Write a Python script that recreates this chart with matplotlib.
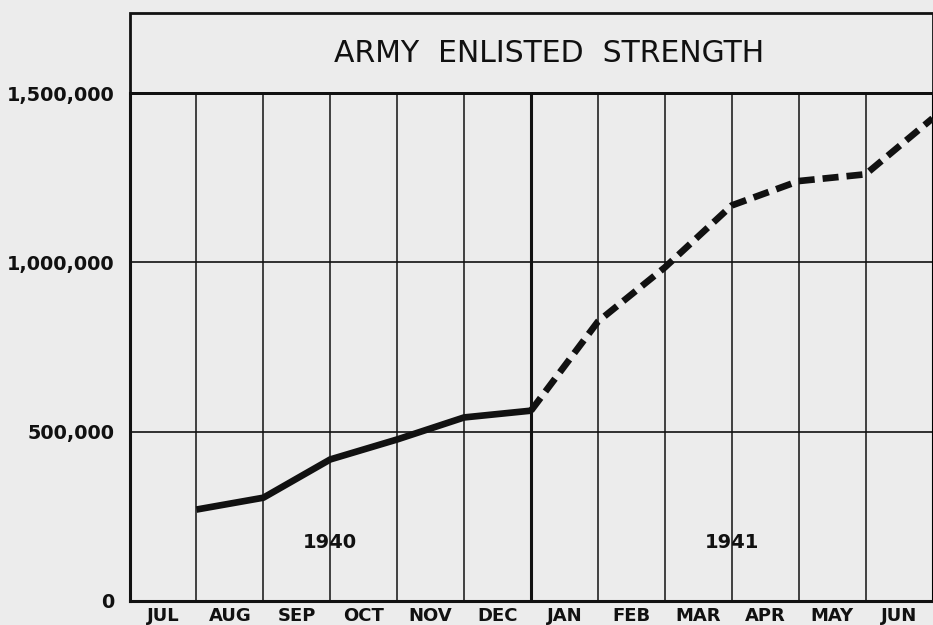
import matplotlib
matplotlib.use("Agg")
import matplotlib.pyplot as plt
from matplotlib.patches import Rectangle

# Month columns, July 1940 through June 1941
months = ["JUL", "AUG", "SEP", "OCT", "NOV", "DEC",
          "JAN", "FEB", "MAR", "APR", "MAY", "JUN"]

# End-of-month enlisted strength
strength_1940_months = [1, 2, 3, 4, 5, 6]            # end of JUL .. end of DEC
strength_1940 = [270000, 305000, 418000, 477000, 542000, 562000]
strength_1941_months = [6, 7, 8, 9, 10, 11, 12]      # end of DEC .. end of JUN
strength_1941 = [562000, 825000, 985000, 1168000, 1240000, 1260000, 1425000]

y_ticks = [0, 500000, 1000000, 1500000]
y_tick_labels = ["0", "500,000", "1,000,000", "1,500,000"]
year_labels = ["1940", "1941"]
title = "ARMY  ENLISTED  STRENGTH"

BG = "#ececec"
INK = "#111111"

fig = plt.figure(figsize=(9.33, 6.25), dpi=100, facecolor=BG)
W, H = 933, 625
left, right, bottom, top = 129.5 / W, 932.5 / W, (H - 601) / H, (H - 93) / H
ax = fig.add_axes([left, bottom, right - left, top - bottom], facecolor=BG)

ax.set_xlim(0, 12)
ax.set_ylim(0, 1500000)

# grid: horizontal value lines and month boundaries
for v in y_ticks[1:]:
    ax.axhline(v, color=INK, lw=1.2, zorder=1)
for m in range(1, 12):
    ax.axvline(m, color=INK, lw=2.2 if m == 6 else 1.1, zorder=1)

ax.plot(strength_1940_months, strength_1940, color=INK, lw=4.8,
        solid_capstyle="butt", solid_joinstyle="round", zorder=3)
ax.plot(strength_1941_months, strength_1941, color=INK, lw=4.8,
        ls=(0, (2.4, 1.2)), dash_capstyle="butt", zorder=3)

for s in ["left", "bottom"]:
    ax.spines[s].set_linewidth(2.2)
    ax.spines[s].set_color(INK)
ax.spines["right"].set_linewidth(1.5)
ax.spines["top"].set_linewidth(2.0)

ax.set_yticks(y_ticks)
ax.set_yticklabels(y_tick_labels)
ax.set_xticks([i + 0.5 for i in range(12)])
ax.set_xticklabels(months)
ax.tick_params(axis="both", length=0, colors=INK)
ax.tick_params(axis="y", pad=11, labelsize=13.8)
ax.tick_params(axis="x", pad=4, labelsize=13)
for lab in ax.get_xticklabels() + ax.get_yticklabels():
    lab.set_fontweight("bold")
    lab.set_family("DejaVu Sans")

ax.text(3.0, 172000, year_labels[0], ha="center", va="center",
        fontsize=14, fontweight="bold", color=INK)
ax.text(9.0, 172000, year_labels[1], ha="center", va="center",
        fontsize=14, fontweight="bold", color=INK)

# title box above the plot
tb = Rectangle((left, top), right - left, (H - 13) / H - top,
               transform=fig.transFigure, fill=False, lw=2.0, ec=INK)
fig.patches.append(tb)
fig.text((left + right) / 2 + 18 / W, (H - 54) / H, title, ha="center",
         va="center", fontsize=21.5, color=INK, family="DejaVu Sans")

fig.savefig("out.png", dpi=100, facecolor=BG)
